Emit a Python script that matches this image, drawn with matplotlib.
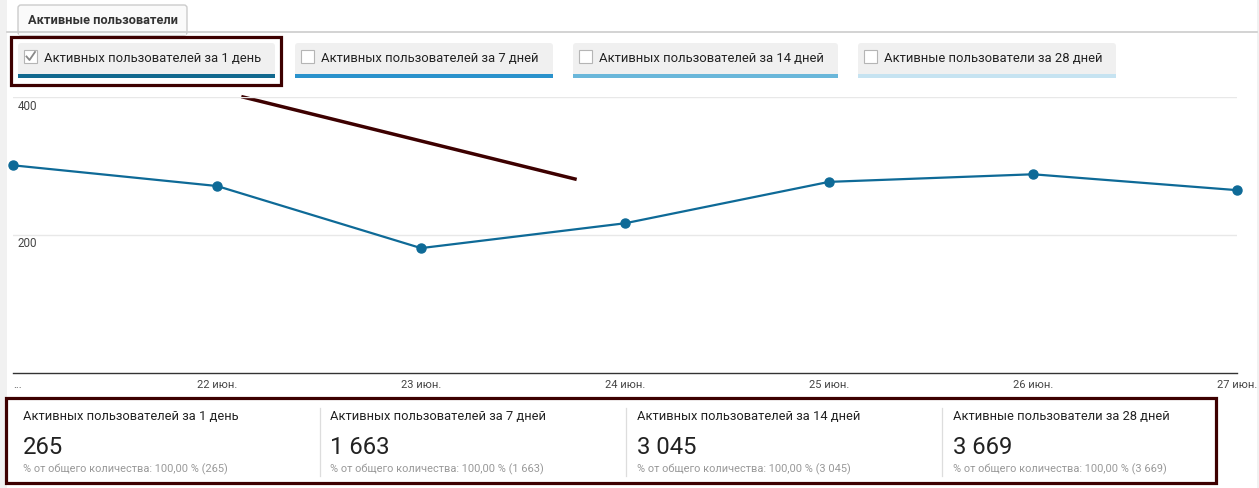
import matplotlib
matplotlib.use("Agg")
import matplotlib.pyplot as plt
from matplotlib.patches import Rectangle, FancyBboxPatch
from matplotlib.lines import Line2D

plt.rcParams['font.family'] = ['Roboto', 'DejaVu Sans']

# data
dates = ["...", "22 июн.", "23 июн.", "24 июн.", "25 июн.", "26 июн.", "27 июн."]
users_1d = [301, 271, 181, 217, 277, 288, 265]
y_ticks = [200, 400]

tab_title = "Активные пользователи"
metric_names = ["Активных пользователей за 1 день",
                "Активных пользователей за 7 дней",
                "Активных пользователей за 14 дней",
                "Активные пользователи за 28 дней"]
metric_totals = [265, 1663, 3045, 3669]
metric_checked = [True, False, False, False]

bar_colors = ["#12698f", "#2a92cc", "#6ab7da", "#c6e3f1"]
line_color = "#0e6a97"
mark_color = "#3d0000"

W, H = 1259, 489
fig = plt.figure(figsize=(W / 100, H / 100), dpi=100)

# background axes in pixel coords
bg = fig.add_axes([0, 0, 1, 1])
bg.set_xlim(0, W)
bg.set_ylim(H, 0)
bg.axis("off")

bg.add_patch(Rectangle((0, 0), 7, H, color="#f1f1f1", lw=0))
bg.add_patch(Rectangle((1257, 0), 2, H, color="#f1f1f1", lw=0))

# tab
bg.plot([7, 1257], [33, 33], color="#cccccc", lw=1.2)
bg.add_patch(FancyBboxPatch((18, 6), 169, 30, boxstyle="round,pad=0,rounding_size=3",
                            fc="#fafafa", ec="#cccccc", lw=1))
bg.add_patch(Rectangle((18.7, 32), 167.6, 4, color="#fafafa", lw=0))
bg.text(28, 20, tab_title, fontsize=9.2, fontweight="bold", color="#333333",
        va="center", ha="left")

# metric buttons
btn_x0 = [18, 295, 573, 858]
btn_x1 = [275, 553, 838, 1116]
for x0, x1, name, col, chk in zip(btn_x0, btn_x1, metric_names, bar_colors, metric_checked):
    bg.add_patch(FancyBboxPatch((x0, 44), x1 - x0, 34, boxstyle="round,pad=0,rounding_size=3",
                                fc="#f0f0f0", ec="none"))
    bg.add_patch(Rectangle((x0, 75), x1 - x0, 3.5, color=col, lw=0))
    bg.add_patch(Rectangle((x0 + 6, 51), 13, 13, fc="white", ec="#b5b5b5", lw=0.8))
    if chk:
        bg.plot([x0 + 8.5, x0 + 11.5, x0 + 17], [57.5, 61, 53], color="#888888", lw=1.3)
    bg.text(x0 + 26, 58, name, fontsize=9.4, color="#222222", va="center", ha="left")

# highlight box around the first button
bg.add_patch(Rectangle((11.5, 37.5), 270, 48.5, fill=False, ec=mark_color, lw=2.3))
# drawn stroke
bg.add_line(Line2D([243, 575], [98, 180], color=mark_color, lw=2.5))

# summary panel
sep_x = [320, 626, 942]
for sx in sep_x:
    bg.plot([sx, sx], [409, 477], color="#dddddd", lw=0.9)
txt_x = [23, 330, 637, 953]
for tx, name, total in zip(txt_x, metric_names, metric_totals):
    num = f"{total:,}".replace(",", " ")
    bg.text(tx, 417, name, fontsize=9.3, color="#222222", va="center", ha="left")
    bg.text(tx, 447, num, fontsize=17.2, color="#222222", va="center", ha="left")
    bg.text(tx, 469, f"% от общего количества: 100,00 % ({num})", fontsize=7.9,
            color="#999999", va="center", ha="left")
bg.add_patch(Rectangle((6.5, 399), 1210, 84.5, fill=False, ec=mark_color, lw=2.3))

# chart axes: x 13..1237 px, y 98..374 px
ax = fig.add_axes([13 / W, 1 - 374 / H, (1237 - 13) / W, (374 - 98) / H])
ax.patch.set_alpha(0)
xs = list(range(len(dates)))
ax.plot(xs, users_1d, color=line_color, lw=1.6, marker="o", markersize=6.5, clip_on=False, zorder=3)
ax.set_xlim(0, len(dates) - 1)
ax.set_ylim(0, 400)
for s in ["top", "right", "left"]:
    ax.spines[s].set_visible(False)
ax.spines["bottom"].set_color("#333333")
ax.spines["bottom"].set_linewidth(1.0)
ax.set_yticks(y_ticks)
ax.set_yticklabels([])
ax.tick_params(axis="y", length=0)
ax.grid(axis="y", color="#e8e8e8", lw=1)
for v in y_ticks:
    ax.annotate(str(v), (0, v), xytext=(5, -8), textcoords="offset pixels",
                fontsize=8.4, color="#444444", va="center", ha="left")
ax.set_xticks(xs)
ax.set_xticklabels(dates, fontsize=8, color="#444444")
ax.tick_params(axis="x", length=0, pad=4)
ax.get_xticklabels()[0].set_ha("left")

fig.savefig("out.png", dpi=100)
